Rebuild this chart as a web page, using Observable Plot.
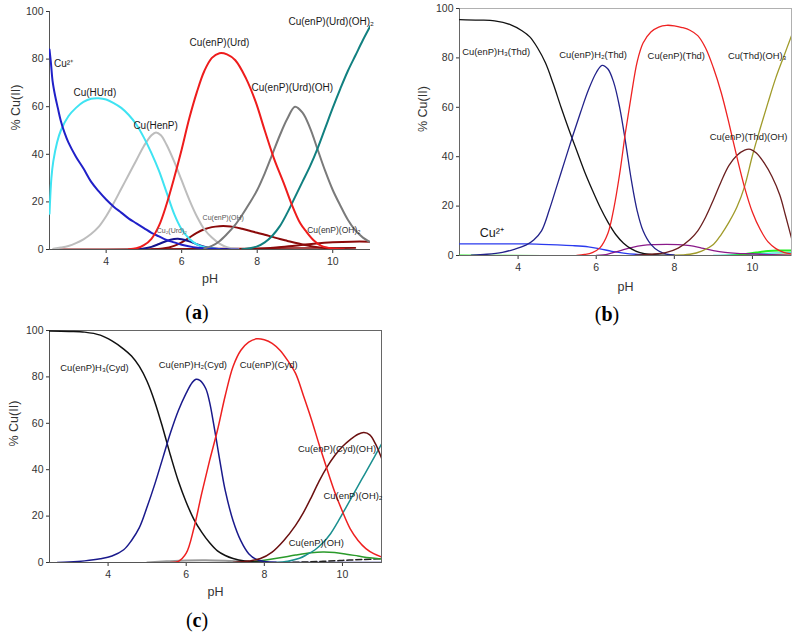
<!DOCTYPE html>
<html><head><meta charset="utf-8">
<script src="https://cdn.jsdelivr.net/npm/d3@7"></script>
<script src="https://cdn.jsdelivr.net/npm/@observablehq/plot@0.6"></script>
<style>
body{margin:0;background:#fff;}
#fig{position:relative;width:800px;height:635px;overflow:hidden;background:#fff;}
.panel{position:absolute;}
.tag{position:absolute;font-family:"Liberation Serif","DejaVu Serif",serif;font-size:20px;transform:translate(-50%,-50%);color:#000;white-space:nowrap;}
</style></head><body><div id="fig"></div>
<script>
// ---------- shared axis values ----------
const pHDomain = [2.5, 11];
const pHTicks = [4, 6, 8, 10];
const pctTicks = [0, 20, 40, 60, 80, 100];
const xTitle = "pH";
const yTitle = "% Cu(II)";

// ---------- panel (a): Urd ----------
const aCu = [[2.5,84],[2.54,78],[2.58,71],[2.65,64.5],[2.72,59.5],[2.8,54],[2.9,49],[3.0,45],[3.2,39],[3.4,34],[3.6,28.5],[3.8,24.5],[4.0,21],[4.2,18],[4.4,15.5],[4.6,13],[4.8,11],[5.0,9],[5.2,7],[5.4,5.5],[5.6,4],[5.8,3],[6.0,2],[6.3,1],[6.6,0.5],[7.0,0.15],[7.5,0]];
const aHUrd = [[2.5,15],[2.52,22],[2.55,30],[2.6,37],[2.7,45],[2.8,50],[3.0,56],[3.2,59.5],[3.4,62],[3.6,63.3],[3.8,63.5],[4.0,63],[4.2,61.5],[4.4,59.5],[4.6,56.5],[4.8,52.5],[5.0,47],[5.2,40.5],[5.4,33],[5.6,24],[5.8,15],[6.0,8.5],[6.2,4.5],[6.4,2.2],[6.6,1],[6.8,0.4],[7.0,0.1]];
const aHenP = [[2.6,0.3],[2.8,0.8],[3.0,1.5],[3.2,2.7],[3.4,4.3],[3.6,6.5],[3.8,9.5],[4.0,14],[4.2,19.5],[4.4,25.5],[4.6,31.5],[4.8,37.5],[5.0,43.5],[5.2,48],[5.32,49.2],[5.45,48],[5.6,44],[5.8,37],[6.0,29],[6.2,21],[6.4,14],[6.6,8.5],[6.8,5],[7.0,2.5],[7.2,1],[7.5,0.3]];
const aEnPUrd = [[4.6,0.1],[4.8,0.5],[5.0,1.8],[5.2,4.5],[5.4,10],[5.6,19],[5.8,30],[6.0,42],[6.2,55],[6.4,66],[6.6,75],[6.8,80.5],[7.0,82.5],[7.2,82],[7.42,79.5],[7.7,72],[7.96,62],[8.2,50],[8.45,38],[8.7,28],[8.9,19.5],[9.14,11],[9.3,7.5],[9.5,3.8],[9.7,1.5],[10.0,0.4],[10.3,0.1]];
const aEnPUrdOH = [[6.6,0.5],[6.8,1.5],[7.0,3.5],[7.2,6.5],[7.4,10],[7.6,14.5],[7.8,19.5],[8.0,25],[8.2,32],[8.4,40],[8.6,48],[8.8,55],[9.0,60],[9.2,57.5],[9.4,51],[9.6,42],[9.8,33],[10.0,25],[10.2,18.5],[10.4,12.5],[10.6,8],[10.8,5],[11.0,3]];
const aEnPUrdOH2 = [[7.6,0.1],[7.8,0.5],[8.0,1.3],[8.2,3],[8.4,5.8],[8.6,9.8],[8.8,15.5],[9.0,22],[9.2,28.5],[9.4,35],[9.6,42.5],[9.8,51],[10.0,59.5],[10.2,67.5],[10.4,75],[10.6,81.5],[10.8,88],[11.0,94]];
const aEnPOH = [[5.2,0],[5.5,0.4],[5.8,1.5],[6.0,3],[6.2,5],[6.4,7],[6.6,8.5],[6.8,9.4],[7.0,9.8],[7.2,9.8],[7.4,9.4],[7.6,8.7],[7.8,7.9],[8.0,7],[8.2,6.2],[8.4,5.3],[8.6,4.4],[8.8,3.6],[9.0,2.8],[9.2,2.1],[9.4,1.5],[9.6,1],[9.8,0.6],[10.0,0.3],[10.6,0.05]];
const aEnPOH2 = [[7.5,0],[8.0,0.2],[8.5,0.8],[9.0,1.6],[9.5,2.4],[10.0,3],[10.5,3.3],[11.0,3.3]];
const aCu2Urd2 = [[4.8,0],[5.0,0.4],[5.2,1.1],[5.4,2.3],[5.6,3.6],[5.8,4.4],[5.9,4.5],[6.0,4.3],[6.2,3.4],[6.4,2.2],[6.6,1.2],[6.8,0.5],[7.0,0.2],[7.3,0]];
const aMinor = [[2.6,0.1],[5.0,0.2],[7.0,0.4],[9.0,0.6],[10.6,0.7]];
const aLabels = [
  {text:"Cu(HUrd)", ph:3.7, pct:66},
  {text:"Cu(HenP)", ph:5.31, pct:52},
  {text:"Cu(enP)(Urd)", ph:7.0, pct:87},
  {text:"Cu(enP)(Urd)(OH)", ph:8.93, pct:68},
  {text:"Cu(enP)(Urd)(OH)₂", ph:9.96, pct:95.5}
];
const aLabelCu = [{text:"Cu²⁺", ph:2.62, pct:78}];
const aSmall = [
  {text:"Cu₂(Urd)₂", ph:5.74, pct:8},
  {text:"Cu(enP)(OH)", ph:7.1, pct:13.5}
];
const aMid = [{text:"Cu(enP)(OH)₂", ph:10.03, pct:8}];

// ---------- panel (b): Thd ----------
const bH3 = [[2.5,95.5],[3.0,95.3],[3.4,95],[3.8,93.5],[4.1,91],[4.3,88.5],[4.5,84],[4.7,78],[4.9,69.5],[5.1,60],[5.3,51],[5.5,42.5],[5.7,34],[5.9,26.5],[6.1,19.5],[6.3,13.5],[6.5,8.5],[6.7,5],[6.9,2.7],[7.1,1.3],[7.4,0.4],[7.8,0.1]];
const bH2 = [[2.8,0.1],[3.2,0.5],[3.6,1.3],[3.9,2.5],[4.2,4.2],[4.4,6.3],[4.6,10],[4.8,18.5],[5.0,28.5],[5.2,38.5],[5.4,48.5],[5.6,58],[5.8,67],[6.0,74],[6.15,77],[6.3,75.5],[6.45,70],[6.6,60],[6.75,46],[6.9,30.5],[7.05,18],[7.2,10],[7.4,4.5],[7.6,1.8],[7.8,0.6],[8.0,0.2]];
const bEnPThd = [[5.5,0],[5.7,0.4],[5.9,1.2],[6.1,3.2],[6.3,9],[6.45,19],[6.6,33],[6.75,50],[6.9,65],[7.05,78.5],[7.2,86],[7.4,90.5],[7.6,92.5],[7.8,93.2],[8.0,93],[8.2,92.3],[8.4,91.2],[8.6,89],[8.8,84],[9.0,76],[9.2,66],[9.4,53.5],[9.6,40],[9.8,27.5],[10.0,17.5],[10.2,10.5],[10.4,5.5],[10.6,2.8],[10.8,1.3],[11.0,0.6]];
const bEnPThdOH = [[7.0,0.1],[7.4,0.5],[7.8,1.3],[8.1,3],[8.4,6.5],[8.6,10],[8.8,15.5],[9.0,22.5],[9.2,30],[9.4,36.5],[9.6,40.5],[9.8,42.7],[9.95,43],[10.1,41.5],[10.3,37.5],[10.5,32],[10.7,24.5],[10.85,16],[11.0,7]];
const bThdOH3 = [[8.0,0.1],[8.4,0.5],[8.7,1.8],[9.0,4.5],[9.2,8.5],[9.4,13.5],[9.6,19.5],[9.8,28],[10.0,40.5],[10.2,51.5],[10.4,62],[10.6,72],[10.8,80.5],[11.0,89]];
const bCu = [[2.5,4.7],[3.5,4.7],[4.2,4.7],[4.6,4.5],[5.0,4.3],[5.4,4.0],[5.8,3.5],[6.1,2.7],[6.4,1.7],[6.7,1],[7.0,0.5],[7.3,0.2],[7.6,0]];
const bPurple = [[6.0,0],[6.3,0.6],[6.6,1.9],[6.9,3.2],[7.2,4.1],[7.5,4.4],[7.8,4.5],[8.1,4.4],[8.4,4],[8.7,3],[9.0,2],[9.3,1.3],[9.6,0.9],[9.9,0.7],[10.2,0.5],[10.5,0.3],[11,0.1]];
const bGreen = [[2.5,0],[9.5,0],[9.8,0.5],[10.1,1.2],[10.4,1.8],[10.7,2],[11,2]];
const bCyan = [[9.0,0],[9.6,0.3],[10.0,0.6],[10.5,1],[11,1.2]];
const bYellow = [[10.2,0],[10.6,0.4],[11,0.8]];
const bLabels = [
  {text:"Cu(enP)H₃(Thd)", ph:3.44, pct:82.4},
  {text:"Cu(enP)H₂(Thd)", ph:5.92, pct:81},
  {text:"Cu(enP)(Thd)", ph:8.05, pct:80.7},
  {text:"Cu(Thd)(OH)₃", ph:10.12, pct:80.7},
  {text:"Cu(enP)(Thd)(OH)", ph:9.9, pct:48}
];
const bLabelCu = [{text:"Cu²⁺", ph:3.33, pct:9}];

// ---------- panel (c): Cyd ----------
const cH3 = [[2.5,99.8],[3.0,99.6],[3.4,99.3],[3.8,98],[4.1,95.5],[4.4,92],[4.6,89],[4.8,84.5],[5.0,78],[5.2,69],[5.4,58],[5.6,46],[5.8,35],[6.0,26],[6.2,18.5],[6.4,13],[6.6,8.5],[6.8,5],[7.0,3],[7.2,1.7],[7.5,0.6],[7.8,0.2],[8.1,0]];
const cH2 = [[2.7,0],[3.0,0.2],[3.4,0.7],[3.8,1.6],[4.1,2.8],[4.4,5.5],[4.6,9.5],[4.8,15],[5.0,24],[5.2,34],[5.4,45],[5.6,56],[5.8,65.5],[6.0,73],[6.15,77.5],[6.25,79],[6.35,78.5],[6.5,75],[6.6,69],[6.7,60],[6.8,50],[6.9,40],[7.0,31],[7.2,18],[7.4,9.3],[7.6,3.8],[7.8,1.3],[8.0,0.4],[8.3,0.1]];
const cEnPCyd = [[5.6,0],[5.8,0.5],[6.0,4],[6.2,15],[6.4,30],[6.6,44],[6.8,57],[7.0,72],[7.2,84.5],[7.4,91.5],[7.6,95],[7.8,96.4],[8.0,96],[8.2,94.5],[8.4,91.5],[8.6,87],[8.8,81.5],[9.0,72],[9.2,62],[9.4,51],[9.6,40.5],[9.8,30.5],[10.0,22],[10.2,14.5],[10.4,9.5],[10.6,6],[10.8,3.8],[11.0,2.4]];
const cEnPCydOH = [[7.2,0],[7.6,0.6],[7.9,1.7],[8.2,4.5],[8.5,9.5],[8.8,16],[9.0,21.5],[9.2,28],[9.4,35],[9.6,41],[9.8,46],[10.0,50],[10.2,53],[10.4,55.3],[10.55,56],[10.7,55],[10.85,51],[11.0,45]];
const cEnPOH2 = [[8.3,0],[8.6,0.5],[8.9,1.8],[9.1,3.5],[9.3,5.5],[9.5,8.5],[9.7,12.5],[9.9,18],[10.1,24],[10.3,30],[10.5,36],[10.7,42],[10.85,46.5],[11.0,51]];
const cEnPOH = [[7.6,0.2],[8.0,1],[8.4,2],[8.8,3.2],[9.2,4.2],[9.5,4.5],[9.8,4.3],[10.1,3.6],[10.4,2.8],[10.7,2],[11,1.5]];
const cGray = [[5.0,0],[5.5,0.5],[6.0,0.9],[6.5,1.0],[7.0,0.8],[7.5,0.4],[8,0.1]];
const cDash = [[8.5,0],[9,0.2],[9.5,0.5],[10,0.9],[10.5,1.3],[11,1.6]];
const cNavyLow = [[7.8,0],[11,0]];
const cLabels = [
  {text:"Cu(enP)H₃(Cyd)", ph:3.65, pct:84},
  {text:"Cu(enP)H₂(Cyd)", ph:6.17, pct:85},
  {text:"Cu(enP)(Cyd)", ph:8.11, pct:85},
  {text:"Cu(enP)(Cyd)(OH)", ph:9.86, pct:49},
  {text:"Cu(enP)(OH)₂", ph:10.27, pct:28.5},
  {text:"Cu(enP)(OH)", ph:9.33, pct:8.5}
];

// ---------- styles (kept apart from the data) ----------
const FONT = "Liberation Sans, Arial, sans-serif";
const rows = pairs => pairs.map(([ph, pct]) => ({ph, pct}));

function panel(cfg) {
  const marks = [];
  if (cfg.frame) marks.push(Plot.frame({stroke: cfg.frame, strokeWidth: 1}));
  marks.push(Plot.ruleX([pHDomain[0]], {stroke: cfg.axisColor, strokeWidth: 1}));
  marks.push(Plot.ruleY([0], {stroke: cfg.axisColor, strokeWidth: 1}));
  for (const s of cfg.series) {
    marks.push(Plot.line(rows(s.data), {
      x: "ph", y: "pct", stroke: s.color, strokeWidth: s.w || cfg.lw,
      curve: "catmull-rom", clip: true, strokeDasharray: s.dash
    }));
  }
  for (const t of cfg.texts) {
    marks.push(Plot.text(t.data, {
      x: "ph", y: "pct", text: "text", fontSize: t.size, fill: t.fill || "#1a1a1a",
      textAnchor: t.anchor || "middle", fontFamily: FONT
    }));
  }
  marks.push(Plot.text([xTitle], {text: d => d, frameAnchor: "bottom", dy: cfg.xTitleDy, fontSize: 12.5, fill: "#333", fontFamily: FONT}));
  marks.push(Plot.text([yTitle], {text: d => d, frameAnchor: "left", dx: cfg.yTitleDx, rotate: -90, fontSize: 12.5, fill: "#333", fontFamily: FONT}));
  return Plot.plot({
    width: cfg.width, height: cfg.height,
    marginLeft: cfg.m[0], marginRight: cfg.m[1], marginTop: cfg.m[2], marginBottom: cfg.m[3],
    style: {fontFamily: FONT, fontSize: "10.5px", color: "#333", background: "white", overflow: "visible"},
    x: {domain: pHDomain, ticks: pHTicks, tickSize: 4, tickPadding: 4, label: null},
    y: {domain: [0, 100], ticks: pctTicks, tickSize: 3, tickPadding: 3, label: null},
    marks
  });
}

const fig = document.getElementById("fig");
function place(node, left, top) {
  const d = document.createElement("div");
  d.className = "panel"; d.style.left = left + "px"; d.style.top = top + "px";
  d.appendChild(node); fig.appendChild(d);
}
function tag(letter, x, y) {
  const d = document.createElement("div");
  d.className = "tag"; d.style.left = x + "px"; d.style.top = y + "px";
  d.innerHTML = "(<b>" + letter + "</b>)";
  fig.appendChild(d);
}

place(panel({
  width: 380, height: 295, m: [49, 10, 11, 46], lw: 2, axisColor: "#555",
  xTitleDy: 33, yTitleDx: -34,
  series: [
    {data: aMinor, color: "#8b0a0a", w: 1.5},
    {data: aEnPOH2, color: "#8b0a0a"},
    {data: aEnPOH, color: "#8b0a0a"},
    {data: aCu2Urd2, color: "#14148c"},
    {data: aHenP, color: "#bdbdbd"},
    {data: aHUrd, color: "#3fe3f2"},
    {data: aCu, color: "#2020c8"},
    {data: aEnPUrdOH, color: "#7a7a7a"},
    {data: aEnPUrdOH2, color: "#118080"},
    {data: aEnPUrd, color: "#ee1c1c"}
  ],
  texts: [
    {data: aLabels, size: 10},
    {data: aLabelCu, size: 10, anchor: "start"},
    {data: aSmall, size: 7, fill: "#555"},
    {data: aMid, size: 8.5, fill: "#333"}
  ]
}), 0, 0);

place(panel({
  width: 400, height: 300, m: [59, 9, 8, 45], lw: 1.3, axisColor: "#666", frame: "#b0b0b0",
  xTitleDy: 35, yTitleDx: -37,
  series: [
    {data: bYellow, color: "#eedd22"},
    {data: bCyan, color: "#33dddd"},
    {data: bGreen, color: "#22ee22", w: 2},
    {data: bCu, color: "#2a3aee"},
    {data: bPurple, color: "#8a1a8a"},
    {data: bH3, color: "#111111"},
    {data: bH2, color: "#22228a"},
    {data: bThdOH3, color: "#a09b2a"},
    {data: bEnPThdOH, color: "#6b1f1f"},
    {data: bEnPThd, color: "#ee2222"}
  ],
  texts: [
    {data: bLabels, size: 9.4},
    {data: bLabelCu, size: 12.5}
  ]
}), 400, 0);

place(panel({
  width: 400, height: 290, m: [49, 19, 10, 48], lw: 1.5, axisColor: "#555", frame: "#666",
  xTitleDy: 33, yTitleDx: -36,
  series: [
    {data: cNavyLow, color: "#1a1a8c"},
    {data: cGray, color: "#999999", w: 2},
    {data: cDash, color: "#222222", dash: "6,3"},
    {data: cEnPOH, color: "#2a9a2a"},
    {data: cEnPOH2, color: "#1a8f8f"},
    {data: cH3, color: "#111111"},
    {data: cH2, color: "#1a1a8c"},
    {data: cEnPCydOH, color: "#6b1010"},
    {data: cEnPCyd, color: "#ee2020"}
  ],
  texts: [
    {data: cLabels, size: 9.4}
  ]
}), 0, 320);

tag("a", 197, 312);
tag("b", 607, 314);
tag("c", 197, 620);
</script>
</body></html>
